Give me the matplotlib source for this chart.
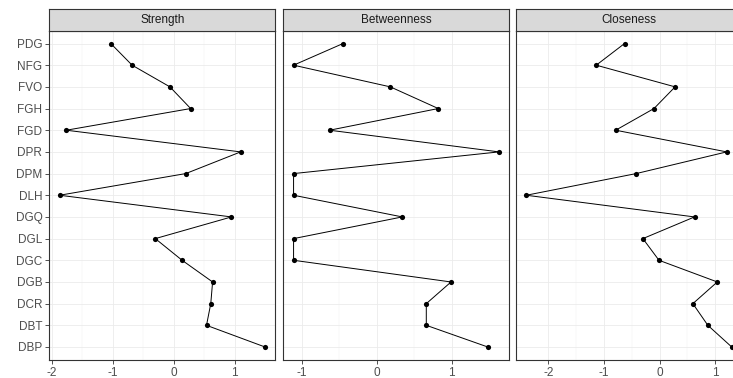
import matplotlib.pyplot as plt
import numpy as np

plt.rcParams['font.family'] = ['Liberation Sans', 'DejaVu Sans']

# node labels, top to bottom
nodes = ["PDG", "NFG", "FVO", "FGH", "FGD", "DPR", "DPM", "DLH",
         "DGQ", "DGL", "DGC", "DGB", "DCR", "DBT", "DBP"]

# standardized centrality values
strength = [-1.03, -0.68, -0.06, 0.28, -1.76, 1.10, 0.20, -1.87,
            0.95, -0.30, 0.14, 0.64, 0.61, 0.54, 1.50]
betweenness = [-0.45, -1.11, 0.18, 0.82, -0.63, 1.63, -1.11, -1.11,
               0.34, -1.11, -1.11, 0.99, 0.66, 0.66, 1.48]
closeness = [-0.63, -1.14, 0.28, -0.10, -0.79, 1.21, -0.42, -2.40,
             0.63, -0.30, -0.01, 1.04, 0.60, 0.87, 1.30]

panels = ["Strength", "Betweenness", "Closeness"]
series = [strength, betweenness, closeness]
xticks = [[-2, -1, 0, 1], [-1, 0, 1], [-2, -1, 0, 1]]

W, H = 733, 378
fig = plt.figure(figsize=(W / 100, H / 100), dpi=100)
fig.patch.set_facecolor('white')

lefts = [49.3, 283.3, 516.0]
pw = 226.0
top_px, bot_px, strip_top = 30.5, 360.0, 9.0

grey20 = '#333333'
ypos = np.arange(len(nodes))

for k in range(3):
    vals = np.array(series[k])
    ax = fig.add_axes([lefts[k] / W, (H - bot_px) / H, pw / W, (bot_px - top_px) / H])
    lo, hi = vals.min(), vals.max()
    pad = 0.05 * (hi - lo)
    ax.set_xlim(lo - pad, hi + pad)
    ax.set_ylim(len(nodes) - 0.4, -0.6)
    ax.set_xticks(xticks[k])
    ax.set_xticks(np.array(xticks[k][:-1]) + 0.5, minor=True)
    ax.set_yticks(ypos)
    ax.grid(True, which='major', color='#EBEBEB', lw=0.6, zorder=0)
    ax.grid(True, which='minor', axis='x', color='#F2F2F2', lw=0.35, zorder=0)
    ax.set_axisbelow(True)
    ax.plot(vals, ypos, color='black', lw=0.7, zorder=2)
    ax.scatter(vals, ypos, s=14, color='black', zorder=3, linewidths=0)
    for sp in ax.spines.values():
        sp.set_color(grey20)
        sp.set_linewidth(0.8)
    ax.tick_params(axis='both', which='major', length=3, width=0.6, color=grey20,
                   labelsize=8.5, labelcolor='#4D4D4D', pad=2)
    ax.tick_params(axis='both', which='minor', length=0)
    ax.set_xticklabels([str(t) for t in xticks[k]])
    if k == 0:
        ax.set_yticklabels(nodes)
    else:
        ax.tick_params(axis='y', left=False, labelleft=False)

    sax = fig.add_axes([lefts[k] / W, (H - top_px) / H, pw / W, (top_px - strip_top) / H])
    sax.set_facecolor('#D9D9D9')
    sax.set_xticks([])
    sax.set_yticks([])
    for sp in sax.spines.values():
        sp.set_color(grey20)
        sp.set_linewidth(0.8)
    sax.text(0.5, 0.5, panels[k], transform=sax.transAxes, ha='center', va='center',
             fontsize=8.5, color='#1A1A1A')

fig.savefig('out.png', dpi=100)
